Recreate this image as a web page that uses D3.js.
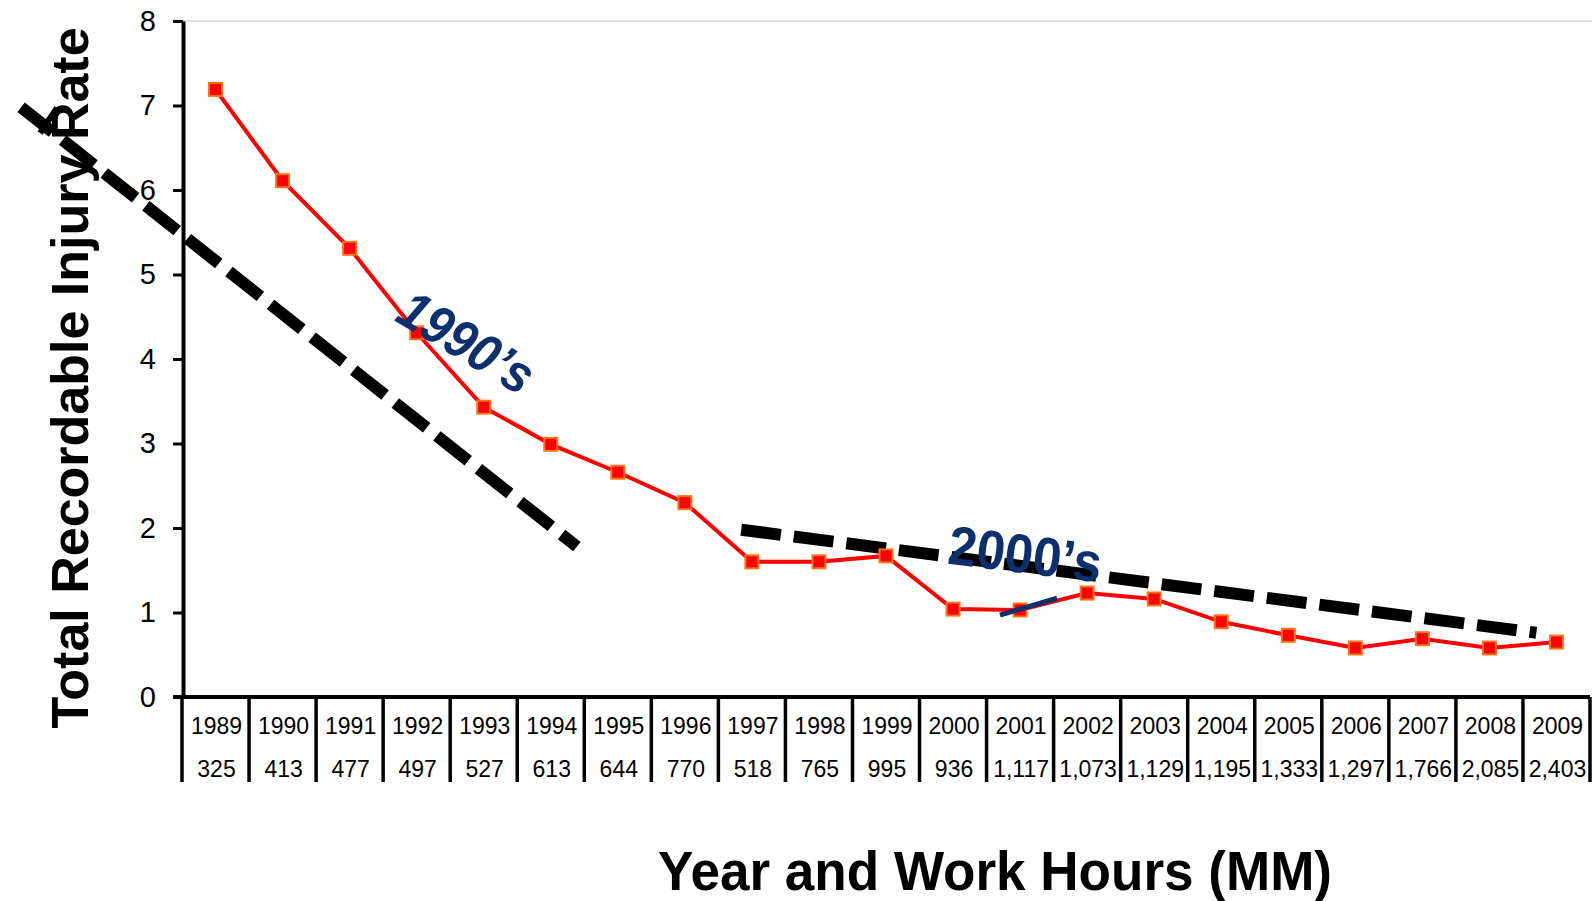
<!DOCTYPE html>
<html>
<head>
<meta charset="utf-8">
<script src="https://cdn.jsdelivr.net/npm/d3@7"></script>
<style>
  body { margin: 0; background: #fff; }
  text { font-family: "Liberation Sans", Arial, sans-serif; }
</style>
</head>
<body>
<div id="chart"></div>
<script>
// chart data
var years = ["1989", "1990", "1991", "1992", "1993", "1994", "1995", "1996", "1997", "1998", "1999",
  "2000", "2001", "2002", "2003", "2004", "2005", "2006", "2007", "2008", "2009"];
var workHours = ["325", "413", "477", "497", "527", "613", "644", "770", "518", "765", "995",
  "936", "1,117", "1,073", "1,129", "1,195", "1,333", "1,297", "1,766", "2,085", "2,403"];
var injuryRate = [7.19, 6.11, 5.31, 4.31, 3.43, 2.99, 2.66, 2.30, 1.60, 1.60, 1.67,
  1.04, 1.03, 1.23, 1.16, 0.89, 0.73, 0.58, 0.69, 0.58, 0.65];
var yTicks = [0, 1, 2, 3, 4, 5, 6, 7, 8];

// trend lines drawn on the chart (x = year index, y = rate)
var trend1990s = [[-2.90, 6.98], [5.39, 1.78]];
var trend2000s = [[7.84, 1.98], [19.70, 0.76]];
var navyStroke = [[11.70, 0.97], [12.55, 1.17]];

var svgWidth = 1592;
var svgHeight = 901;

var svg = d3.select("#chart")
  .append("svg")
  .attr("width", svgWidth)
  .attr("height", svgHeight);

// scales
var x = d3.scaleLinear()
  .domain([-0.5, years.length - 0.5])
  .range([182, 1590]);

var y = d3.scaleLinear()
  .domain([0, 8])
  .range([697, 21]);

// light top border of plot area
svg.append("line")
  .attr("x1", x(-0.5)).attr("x2", svgWidth)
  .attr("y1", y(8)).attr("y2", y(8))
  .attr("stroke", "#e2e2e2")
  .attr("stroke-width", 2);

// y axis
var leftAxis = d3.axisLeft(y)
  .tickValues(yTicks)
  .tickSize(10)
  .tickSizeOuter(0)
  .tickPadding(17);

var yAxis = svg.append("g")
  .attr("transform", `translate(${x(-0.5) + 1}, 0)`)
  .call(leftAxis);

yAxis.select(".domain").attr("stroke", "#000").attr("stroke-width", 4);
yAxis.selectAll(".tick line").attr("stroke", "#000").attr("stroke-width", 3);
yAxis.selectAll(".tick text")
  .attr("fill", "#000")
  .style("font-size", "29px")
  .style("font-family", "'Liberation Sans', Arial, sans-serif");

// x axis line + table of years / work hours
svg.append("line")
  .attr("x1", 173).attr("x2", x(years.length - 0.5))
  .attr("y1", y(0)).attr("y2", y(0))
  .attr("stroke", "#000")
  .attr("stroke-width", 4);

svg.selectAll(".sep")
  .data(d3.range(years.length + 1))
  .enter()
  .append("line")
  .attr("class", "sep")
  .attr("x1", d => x(d - 0.5))
  .attr("x2", d => x(d - 0.5))
  .attr("y1", y(0))
  .attr("y2", 782)
  .attr("stroke", "#000")
  .attr("stroke-width", 3.5);

svg.selectAll(".yearLabel")
  .data(years)
  .enter()
  .append("text")
  .attr("class", "yearLabel")
  .attr("x", (d, i) => x(i) + 1)
  .attr("y", 734)
  .attr("text-anchor", "middle")
  .style("font-size", "23px")
  .text(d => d);

svg.selectAll(".hoursLabel")
  .data(workHours)
  .enter()
  .append("text")
  .attr("class", "hoursLabel")
  .attr("x", (d, i) => x(i) + 1)
  .attr("y", 777)
  .attr("text-anchor", "middle")
  .style("font-size", "23px")
  .text(d => d);

// axis titles
svg.append("text")
  .attr("transform", "translate(88, 378) rotate(-90)")
  .attr("text-anchor", "middle")
  .style("font-size", "52px")
  .style("font-weight", "bold")
  .text("Total Recordable Injury Rate");

svg.append("text")
  .attr("x", 995)
  .attr("y", 890)
  .attr("text-anchor", "middle")
  .attr("textLength", 674)
  .attr("lengthAdjust", "spacingAndGlyphs")
  .style("font-size", "55px")
  .style("font-weight", "bold")
  .text("Year and Work Hours (MM)");

// data line
var line = d3.line()
  .x((d, i) => x(i))
  .y(d => y(d));

svg.append("path")
  .datum(injuryRate)
  .attr("d", line)
  .attr("fill", "none")
  .attr("stroke", "#ff0000")
  .attr("stroke-width", 4);

// trend lines
var segLine = d3.line()
  .x(d => x(d[0]))
  .y(d => y(d[1]));

[trend1990s, trend2000s].forEach(function(seg) {
  svg.append("path")
    .datum(seg)
    .attr("d", segLine)
    .attr("fill", "none")
    .attr("stroke", "#000")
    .attr("stroke-width", 12)
    .attr("stroke-dasharray", "40,13");
});

// small slash at the start of the 1990's trend
svg.append("line")
  .attr("x1", 40).attr("y1", 133)
  .attr("x2", 57).attr("y2", 108)
  .attr("stroke", "#000")
  .attr("stroke-width", 6);

// markers
var markerSize = 13;
svg.selectAll(".marker")
  .data(injuryRate)
  .enter()
  .append("rect")
  .attr("class", "marker")
  .attr("x", (d, i) => x(i) - markerSize / 2)
  .attr("y", d => y(d) - markerSize / 2)
  .attr("width", markerSize)
  .attr("height", markerSize)
  .attr("fill", "#ff0000")
  .attr("stroke", "#ff7318")
  .attr("stroke-width", 2);

// navy stroke near 2001
svg.append("path")
  .datum(navyStroke)
  .attr("d", segLine)
  .attr("stroke", "#0e2f6e")
  .attr("stroke-width", 5);

// decade labels
svg.append("text")
  .attr("transform", "translate(457, 358) rotate(31)")
  .attr("text-anchor", "middle")
  .attr("textLength", 148)
  .attr("lengthAdjust", "spacingAndGlyphs")
  .attr("fill", "#0e2f6e")
  .style("font-size", "54px")
  .style("font-weight", "bold")
  .style("font-style", "italic")
  .text("1990\u2019s");

svg.append("text")
  .attr("transform", "translate(1023, 573) rotate(7)")
  .attr("text-anchor", "middle")
  .attr("textLength", 154)
  .attr("lengthAdjust", "spacingAndGlyphs")
  .attr("fill", "#0e2f6e")
  .style("font-size", "55px")
  .style("font-weight", "bold")
  .text("2000\u2019s");
</script>
</body>
</html>
